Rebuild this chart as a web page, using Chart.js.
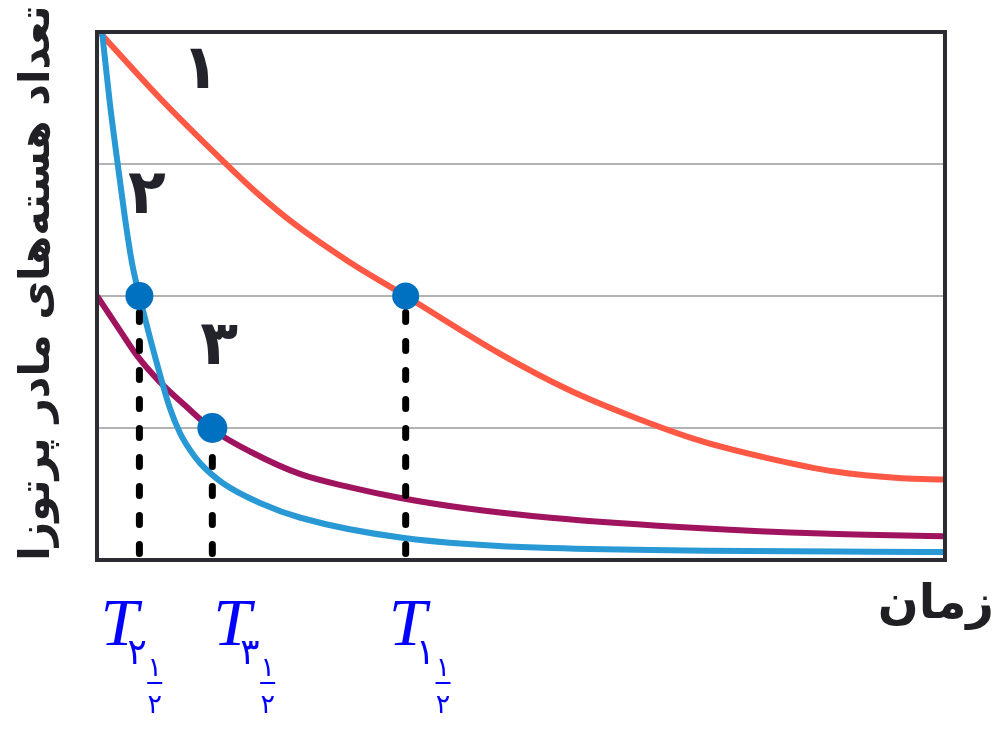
<!DOCTYPE html>
<html lang="fa">
<head>
<meta charset="utf-8">
<script src="https://cdn.jsdelivr.net/npm/chart.js@4.4.1/dist/chart.umd.min.js"></script>
<style>
  html, body { margin: 0; padding: 0; background: #fff; }
  #wrap { width: 1000px; height: 730px; }
</style>
</head>
<body>
<div id="wrap"><canvas id="decayChart" width="1000" height="730"></canvas></div>
<script>
// curve 1 (red), slow decay
const redT = [0.04, 0.74, 1.49, 1.87, 2.34, 2.97, 3.64, 4.76, 5.56, 6.34, 7.13, 7.92, 8.70, 9.49, 10];
const redN = [3.99, 3.50, 3.02, 2.79, 2.54, 2.26, 2.0, 1.56, 1.29, 1.08, 0.90, 0.77, 0.67, 0.62, 0.61];
// curve 2 (blue), fast decay
const blueT = [0.06, 0.15, 0.24, 0.33, 0.41, 0.50, 0.57, 0.71, 0.86, 0.98, 1.10, 1.22, 1.49, 1.93, 2.40, 3.58, 5.35, 10];
const blueN = [4.0, 3.47, 3.02, 2.59, 2.26, 2.0, 1.82, 1.48, 1.15, 0.96, 0.83, 0.73, 0.58, 0.43, 0.32, 0.17, 0.09, 0.06];
// curve 3 (purple), starts at half
const purpleT = [0, 0.27, 0.47, 0.74, 1.04, 1.36, 1.81, 2.40, 2.99, 3.58, 4.37, 5.35, 7.13, 8.55, 10];
const purpleN = [2.0, 1.74, 1.55, 1.35, 1.17, 0.99, 0.82, 0.65, 0.55, 0.47, 0.39, 0.32, 0.24, 0.20, 0.18];

// half-life points for curves 1, 2, 3
const halfT = [3.64, 0.50, 1.36];
const halfN = [2, 2, 1];
const curveNames = ["۱", "۲", "۳"];
const nameT = [1.22, 0.59, 1.44];
const nameN = [3.7, 2.75, 1.61];

const yTitle = "تعداد هسته‌های مادر پرتوزا";
const xTitle = "زمان";

const toPoints = (xs, ys) => xs.map((x, i) => ({ x: x, y: ys[i] }));

const dashSets = halfT.map((t, i) => ({
  type: "line",
  data: [{ x: t, y: 0 }, { x: t, y: halfN[i] }],
  borderColor: "#000",
  borderWidth: 7,
  borderDash: [9, 20],
  borderDashOffset: 22.5,
  borderCapStyle: "round",
  pointRadius: 0,
}));

const labelPlugin = {
  id: "labels",
  afterDraw(chart) {
    const ctx = chart.ctx;
    const xs = chart.scales.x, ys = chart.scales.y;
    const a = chart.chartArea;

    // frame
    ctx.save();
    ctx.strokeStyle = "#2b2d33";
    ctx.lineWidth = 4;
    ctx.strokeRect(a.left, a.top, a.right - a.left, a.bottom - a.top);

    // curve numbers
    ctx.fillStyle = "#23232b";
    ctx.font = 'bold 62px "DejaVu Sans"';
    ctx.textAlign = "center";
    ctx.textBaseline = "middle";
    curveNames.forEach((n, i) => {
      ctx.fillText(n, xs.getPixelForValue(nameT[i]), ys.getPixelForValue(nameN[i]));
    });

    // T labels under the dashed lines
    const offs = [-17, -39, 1];
    ctx.fillStyle = "#0000ff";
    ctx.textBaseline = "alphabetic";
    halfT.forEach((t, i) => {
      const L = xs.getPixelForValue(t) + offs[i];
      ctx.textAlign = "left";
      ctx.font = 'italic 68px "Liberation Serif"';
      ctx.fillText("T", L, 645);
      ctx.font = '36px "DejaVu Sans"';
      ctx.fillText(curveNames[i], L + 27, 664);
      const w = ctx.measureText(curveNames[i]).width;
      const fc = L + 27 + w + 8;
      ctx.textAlign = "center";
      ctx.font = '27px "DejaVu Sans"';
      ctx.fillText("۱", fc, 676);
      ctx.fillRect(fc - 7.5, 682, 15, 2);
      ctx.fillText("۲", fc, 713);
    });

    // axis titles
    ctx.fillStyle = "#1f1f24";
    ctx.font = 'bold 48px "DejaVu Sans"';
    ctx.textAlign = "right";
    ctx.textBaseline = "alphabetic";
    ctx.fillText(xTitle, 994, 618);

    ctx.translate(38, 283);
    ctx.rotate(-Math.PI / 2);
    ctx.font = 'bold 40px "DejaVu Sans"';
    const fit = 40 * 556 / ctx.measureText(yTitle).width;
    ctx.font = "bold " + fit.toFixed(1) + 'px "DejaVu Sans"';
    ctx.textAlign = "center";
    ctx.textBaseline = "middle";
    ctx.fillText(yTitle, 0, 0);
    ctx.restore();
  }
};

new Chart(document.getElementById("decayChart"), {
  type: "line",
  data: {
    datasets: [
      {
        type: "scatter",
        data: toPoints(halfT, halfN),
        backgroundColor: "#0070c0",
        borderWidth: 0,
        pointRadius: [13.5, 14, 15],
        showLine: false,
      },
      ...dashSets,
      {
        data: toPoints(blueT, blueN),
        borderColor: "#2899d5",
        borderWidth: 6,
        pointRadius: 0,
        cubicInterpolationMode: "monotone",
      },
      {
        data: toPoints(purpleT, purpleN),
        borderColor: "#a0135e",
        borderWidth: 6,
        pointRadius: 0,
        cubicInterpolationMode: "monotone",
      },
      {
        data: toPoints(redT, redN),
        borderColor: "#ff5845",
        borderWidth: 6,
        pointRadius: 0,
        cubicInterpolationMode: "monotone",
      },
    ]
  },
  options: {
    responsive: false,
    animation: false,
    layout: { padding: { left: 97, right: 55, top: 32, bottom: 170 } },
    plugins: { legend: { display: false }, tooltip: { enabled: false } },
    scales: {
      x: {
        type: "linear", min: 0, max: 10,
        ticks: { display: false },
        grid: { display: false },
        border: { display: false },
        afterFit: s => { s.height = 0; }
      },
      y: {
        min: 0, max: 4,
        ticks: { display: false, stepSize: 1 },
        grid: {
          drawTicks: false,
          lineWidth: 2,
          color: c => (c.tick.value > 0 && c.tick.value < 4) ? "#b3b3b3" : "transparent"
        },
        border: { display: false },
        afterFit: s => { s.width = 0; }
      }
    }
  },
  plugins: [labelPlugin]
});
</script>
</body>
</html>
